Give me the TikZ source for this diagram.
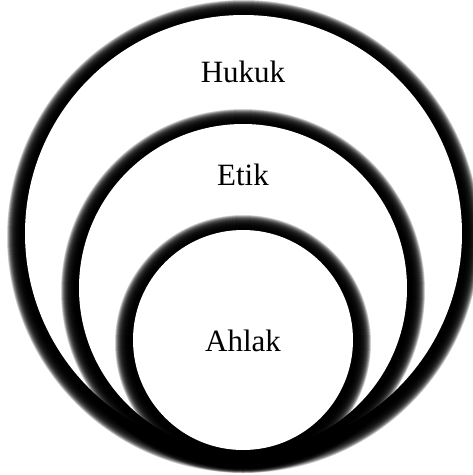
\documentclass[tikz,border=0pt]{standalone}
\usepackage{fontspec}
\setmainfont{Liberation Serif}
\tikzset{
  glow/.style={fill=black, fill opacity=0.14, draw=none},
  disc/.style={fill=white, draw=none},
  lbl/.style={font=\fontsize{31}{37}\selectfont, anchor=base, inner sep=0pt}
}
\newcommand\glowdisc[3]{%
  \foreach \d in {0.5,1,...,18} { \fill[glow] (#1,#2+3) circle ({#3+\d}); }
  \fill[disc] (#1,#2) circle (#3);
}
\begin{document}
\begin{tikzpicture}[x=1pt,y=-1pt]
  \useasboundingbox[fill=white] (0,0) rectangle (473,475);
  \glowdisc{243.5}{233.5}{218.5}
  \glowdisc{243}{288}{164}
  \glowdisc{243}{340}{110}
  \node[lbl] (hukuk) at (243,82) {Hukuk};
  \node[lbl] (etik) at (243,185) {Etik};
  \node[lbl] (ahlak) at (243,351) {Ahlak};
\end{tikzpicture}
\end{document}
